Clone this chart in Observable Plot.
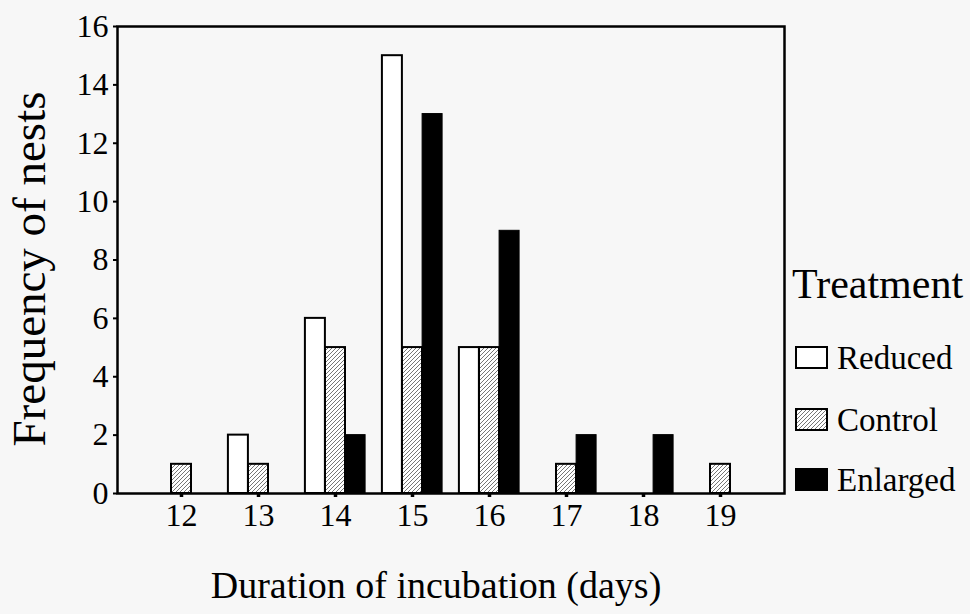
<!DOCTYPE html>
<html>
<head>
<meta charset="utf-8">
<script src="https://cdn.jsdelivr.net/npm/d3@7"></script>
<script src="https://cdn.jsdelivr.net/npm/@observablehq/plot@0.6"></script>
<style>
  html, body { margin: 0; padding: 0; background: #f7f7f7; }
  #wrap { position: relative; width: 970px; height: 614px; font-family: "Liberation Serif", "Times New Roman", serif; }
  #legend { position: absolute; left: 0; top: 0; }
</style>
</head>
<body>
<div id="wrap"></div>
<script>
// ---- data ----
const days = [12, 13, 14, 15, 16, 17, 18, 19];
const treatments = ["Reduced", "Control", "Enlarged"];
const reduced  = [0, 2, 6, 15, 5, 0, 0, 0];
const control  = [1, 1, 5, 5, 5, 1, 0, 1];
const enlarged = [0, 0, 2, 13, 9, 2, 2, 0];
const yTicks = [0, 2, 4, 6, 8, 10, 12, 14, 16];
const xLabel = "Duration of incubation (days)";
const yLabel = "Frequency of nests";
const legendTitle = "Treatment";

const seriesValues = {Reduced: reduced, Control: control, Enlarged: enlarged};
const rows = [];
treatments.forEach(t => days.forEach((d, i) => rows.push({day: d, treatment: t, count: seriesValues[t][i]})));

// ---- layout ----
const W = 970, H = 614;
const mL = 117, mR = 186, mT = 26, mB = 121;
const PI = 0.74, PO = 0.685;
const step = (W - mL - mR) / (days.length - PI + 2 * PO);
const bw = step * (1 - PI);

const styles = {
  Reduced:  {fill: "white", stroke: "black", strokeWidth: 2},
  Control:  {fill: "url(#hatch)", stroke: "black", strokeWidth: 2},
  Enlarged: {fill: "black", stroke: "black", strokeWidth: 1}
};
const offsets = {Reduced: -bw, Control: 0, Enlarged: bw};

const barMarks = treatments.map(t =>
  Plot.barY(rows.filter(r => r.treatment === t && r.count > 0), {
    x: "day", y: "count", dx: offsets[t], ...styles[t]
  })
);

const chart = Plot.plot({
  width: W, height: H,
  marginLeft: mL, marginRight: mR, marginTop: mT, marginBottom: mB,
  style: {fontFamily: "Liberation Serif, Times New Roman, serif", fontSize: "32px", background: "transparent", color: "black", overflow: "visible"},
  x: {type: "band", domain: days, paddingInner: PI, paddingOuter: PO, label: null},
  y: {domain: [0, 16], ticks: yTicks, label: null},
  marks: [
    ...barMarks,
    Plot.frame({stroke: "black", strokeWidth: 2.5}),
    Plot.axisX({ticks: days, tickSize: 4, strokeWidth: 3.5, tickPadding: 6, label: null, fontSize: 32}),
    Plot.axisY({ticks: yTicks, tickSize: 4, strokeWidth: 2, tickPadding: 5, label: null, fontSize: 32}),
    Plot.text([xLabel], {frameAnchor: "bottom", lineAnchor: "middle", textAnchor: "middle", dy: 92, dx: -15, fontSize: 38}),
    Plot.text([yLabel], {frameAnchor: "left", lineAnchor: "middle", textAnchor: "middle", rotate: -90, dx: -88, dy: 9, fontSize: 47})
  ]
});

// hatch pattern
const svgSel = d3.select(chart);
const defs = svgSel.insert("defs", ":first-child");
const pat = defs.append("pattern")
  .attr("id", "hatch").attr("patternUnits", "userSpaceOnUse")
  .attr("width", 4).attr("height", 4);
pat.append("rect").attr("width", 4).attr("height", 4).attr("fill", "white");
pat.append("path").attr("d", "M-1,1 l2,-2 M0,4 l4,-4 M3,5 l2,-2")
  .attr("stroke", "#666").attr("stroke-width", 0.9);

const wrap = document.getElementById("wrap");
wrap.appendChild(chart);

// legend overlay
const leg = d3.select(wrap).append("svg").attr("id", "legend")
  .attr("width", W).attr("height", H)
  .style("font-family", "Liberation Serif, Times New Roman, serif");
const lDefs = leg.append("defs");
const p2 = lDefs.append("pattern").attr("id", "hatch2").attr("patternUnits", "userSpaceOnUse").attr("width", 4).attr("height", 4);
p2.append("rect").attr("width", 4).attr("height", 4).attr("fill", "white");
p2.append("path").attr("d", "M-1,1 l2,-2 M0,4 l4,-4 M3,5 l2,-2").attr("stroke", "#666").attr("stroke-width", 0.9);

leg.append("text").attr("x", 792).attr("y", 298).attr("font-size", 42).text(legendTitle);
const legendFill = {Reduced: "white", Control: "url(#hatch2)", Enlarged: "black"};
const rowTop = [347, 409, 469];
treatments.forEach((t, i) => {
  leg.append("rect").attr("x", 796).attr("y", rowTop[i]).attr("width", 31).attr("height", 21)
    .attr("fill", legendFill[t]).attr("stroke", "black").attr("stroke-width", 2);
  leg.append("text").attr("x", 837).attr("y", rowTop[i] + 22).attr("font-size", 33).text(t);
});
</script>
</body>
</html>
